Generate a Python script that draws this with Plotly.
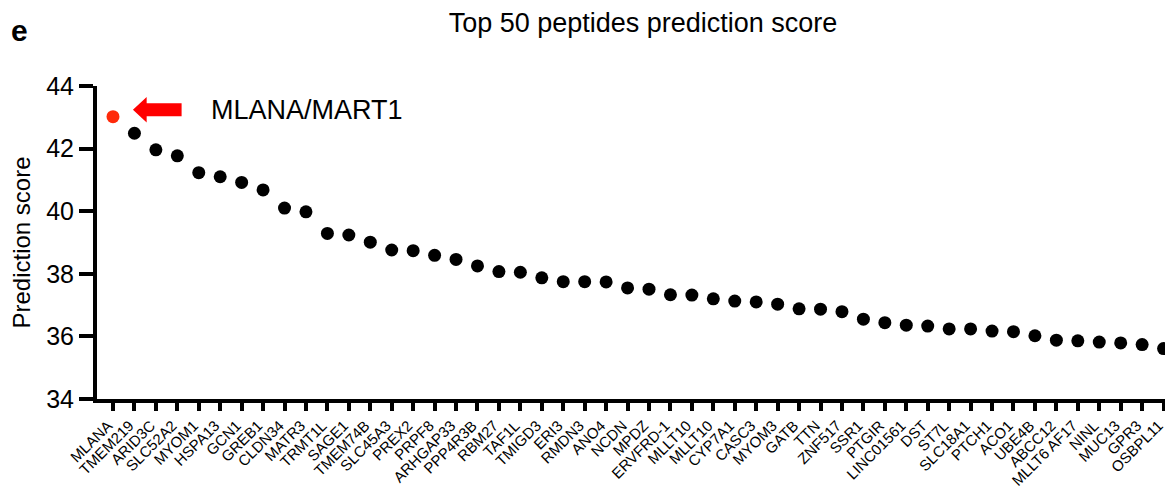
import plotly.graph_objects as go

genes = ["MLANA", "TMEM219", "ARID3C", "SLC52A2", "MYOM1", "HSPA13", "GCN1", "GREB1",
         "CLDN34", "MATR3", "TRMT1L", "SAGE1", "TMEM74B", "SLC45A3", "PREX2", "PRPF8",
         "ARHGAP33", "PPP4R3B", "RBM27", "TAF1L", "TMIGD3", "ERI3", "RMDN3", "ANO4",
         "NCDN", "MPDZ", "ERVFRD-1", "MLLT10", "MLLT10", "CYP7A1", "CASC3", "MYOM3",
         "GATB", "TTN", "ZNF517", "SSR1", "PTGIR", "LINC01561", "DST", "ST7L",
         "SLC18A1", "PTCH1", "ACO1", "UBE4B", "ABCC12", "MLLT6 AF17", "NINL", "MUC13",
         "GPR3", "OSBPL11"]

scores = [43.02, 42.49, 41.96, 41.77, 41.23, 41.10, 40.92, 40.68,
          40.10, 39.98, 39.29, 39.24, 39.01, 38.76, 38.74, 38.59,
          38.46, 38.25, 38.07, 38.05, 37.87, 37.75, 37.75, 37.74,
          37.55, 37.51, 37.33, 37.32, 37.20, 37.13, 37.10, 37.03,
          36.88, 36.87, 36.79, 36.55, 36.44, 36.36, 36.33, 36.24,
          36.24, 36.17, 36.15, 36.02, 35.88, 35.86, 35.82, 35.79,
          35.74, 35.61]

highlight_label = "MLANA/MART1"
title_text = "Top 50 peptides prediction score"
y_title = "Prediction score"
y_ticks = [34, 36, 38, 40, 42, 44]

idx = list(range(len(genes)))
FONT = "Liberation Sans, Arial, Helvetica, sans-serif"

fig = go.Figure()
fig.add_trace(go.Scatter(
    x=idx[1:], y=scores[1:], mode="markers",
    marker=dict(color="black", size=13, line=dict(width=0)),
    showlegend=False, cliponaxis=False))
fig.add_trace(go.Scatter(
    x=idx[:1], y=scores[:1], mode="markers",
    marker=dict(color="#FF2A0A", size=13, line=dict(width=0)),
    showlegend=False, cliponaxis=False))

# red arrow pointing to the highlighted point
ay0 = 43.24
fig.add_shape(type="path", xref="x", yref="y",
              path=(f"M 0.93 {ay0} L 1.57 {ay0+0.41} L 1.57 {ay0+0.21} L 3.2 {ay0+0.21} "
                    f"L 3.2 {ay0-0.21} L 1.57 {ay0-0.21} L 1.57 {ay0-0.41} Z"),
              fillcolor="#FF0000", line=dict(width=0))

fig.add_annotation(x=4.5, y=ay0, xref="x", yref="y", text=highlight_label,
                   showarrow=False, xanchor="left", yanchor="middle",
                   font=dict(size=27, color="black", family=FONT))

fig.add_annotation(x=-0.082, y=1.176, xref="paper", yref="paper", text="<b>e</b>",
                   showarrow=False, xanchor="left", yanchor="middle",
                   font=dict(size=30, color="black", family=FONT))

# page body has an 8px margin, so the figure is offset by 8px
fig.update_layout(
    width=1165, height=482,
    margin=dict(l=89, r=0, t=78, b=91, autoexpand=False),
    paper_bgcolor="white", plot_bgcolor="white",
    font=dict(family=FONT, color="black"),
    title=dict(text=title_text, x=(643 - 8) / 1165, xanchor="center",
               y=1 - (23 - 8) / 482, yanchor="middle",
               font=dict(size=27, color="black", family=FONT)),
)
fig.update_xaxes(
    range=[-0.746, 49.44], tickmode="array", tickvals=idx, ticktext=genes,
    tickangle=-45, tickfont=dict(size=15, family=FONT, color="black"),
    ticklabelshift=-5,
    showline=True, linecolor="black", linewidth=4,
    ticks="outside", ticklen=8, tickwidth=4, tickcolor="black",
    showgrid=False, zeroline=False, automargin=False)
fig.update_yaxes(
    range=[34, 44], tickmode="array", tickvals=y_ticks,
    tickfont=dict(size=25, family=FONT, color="black"),
    title=dict(text=y_title, font=dict(size=24, family=FONT, color="black"), standoff=14),
    showline=True, linecolor="black", linewidth=4,
    ticks="outside", ticklen=14, tickwidth=4, tickcolor="black",
    showgrid=False, zeroline=False, automargin=False)

fig.write_html("out.html")
